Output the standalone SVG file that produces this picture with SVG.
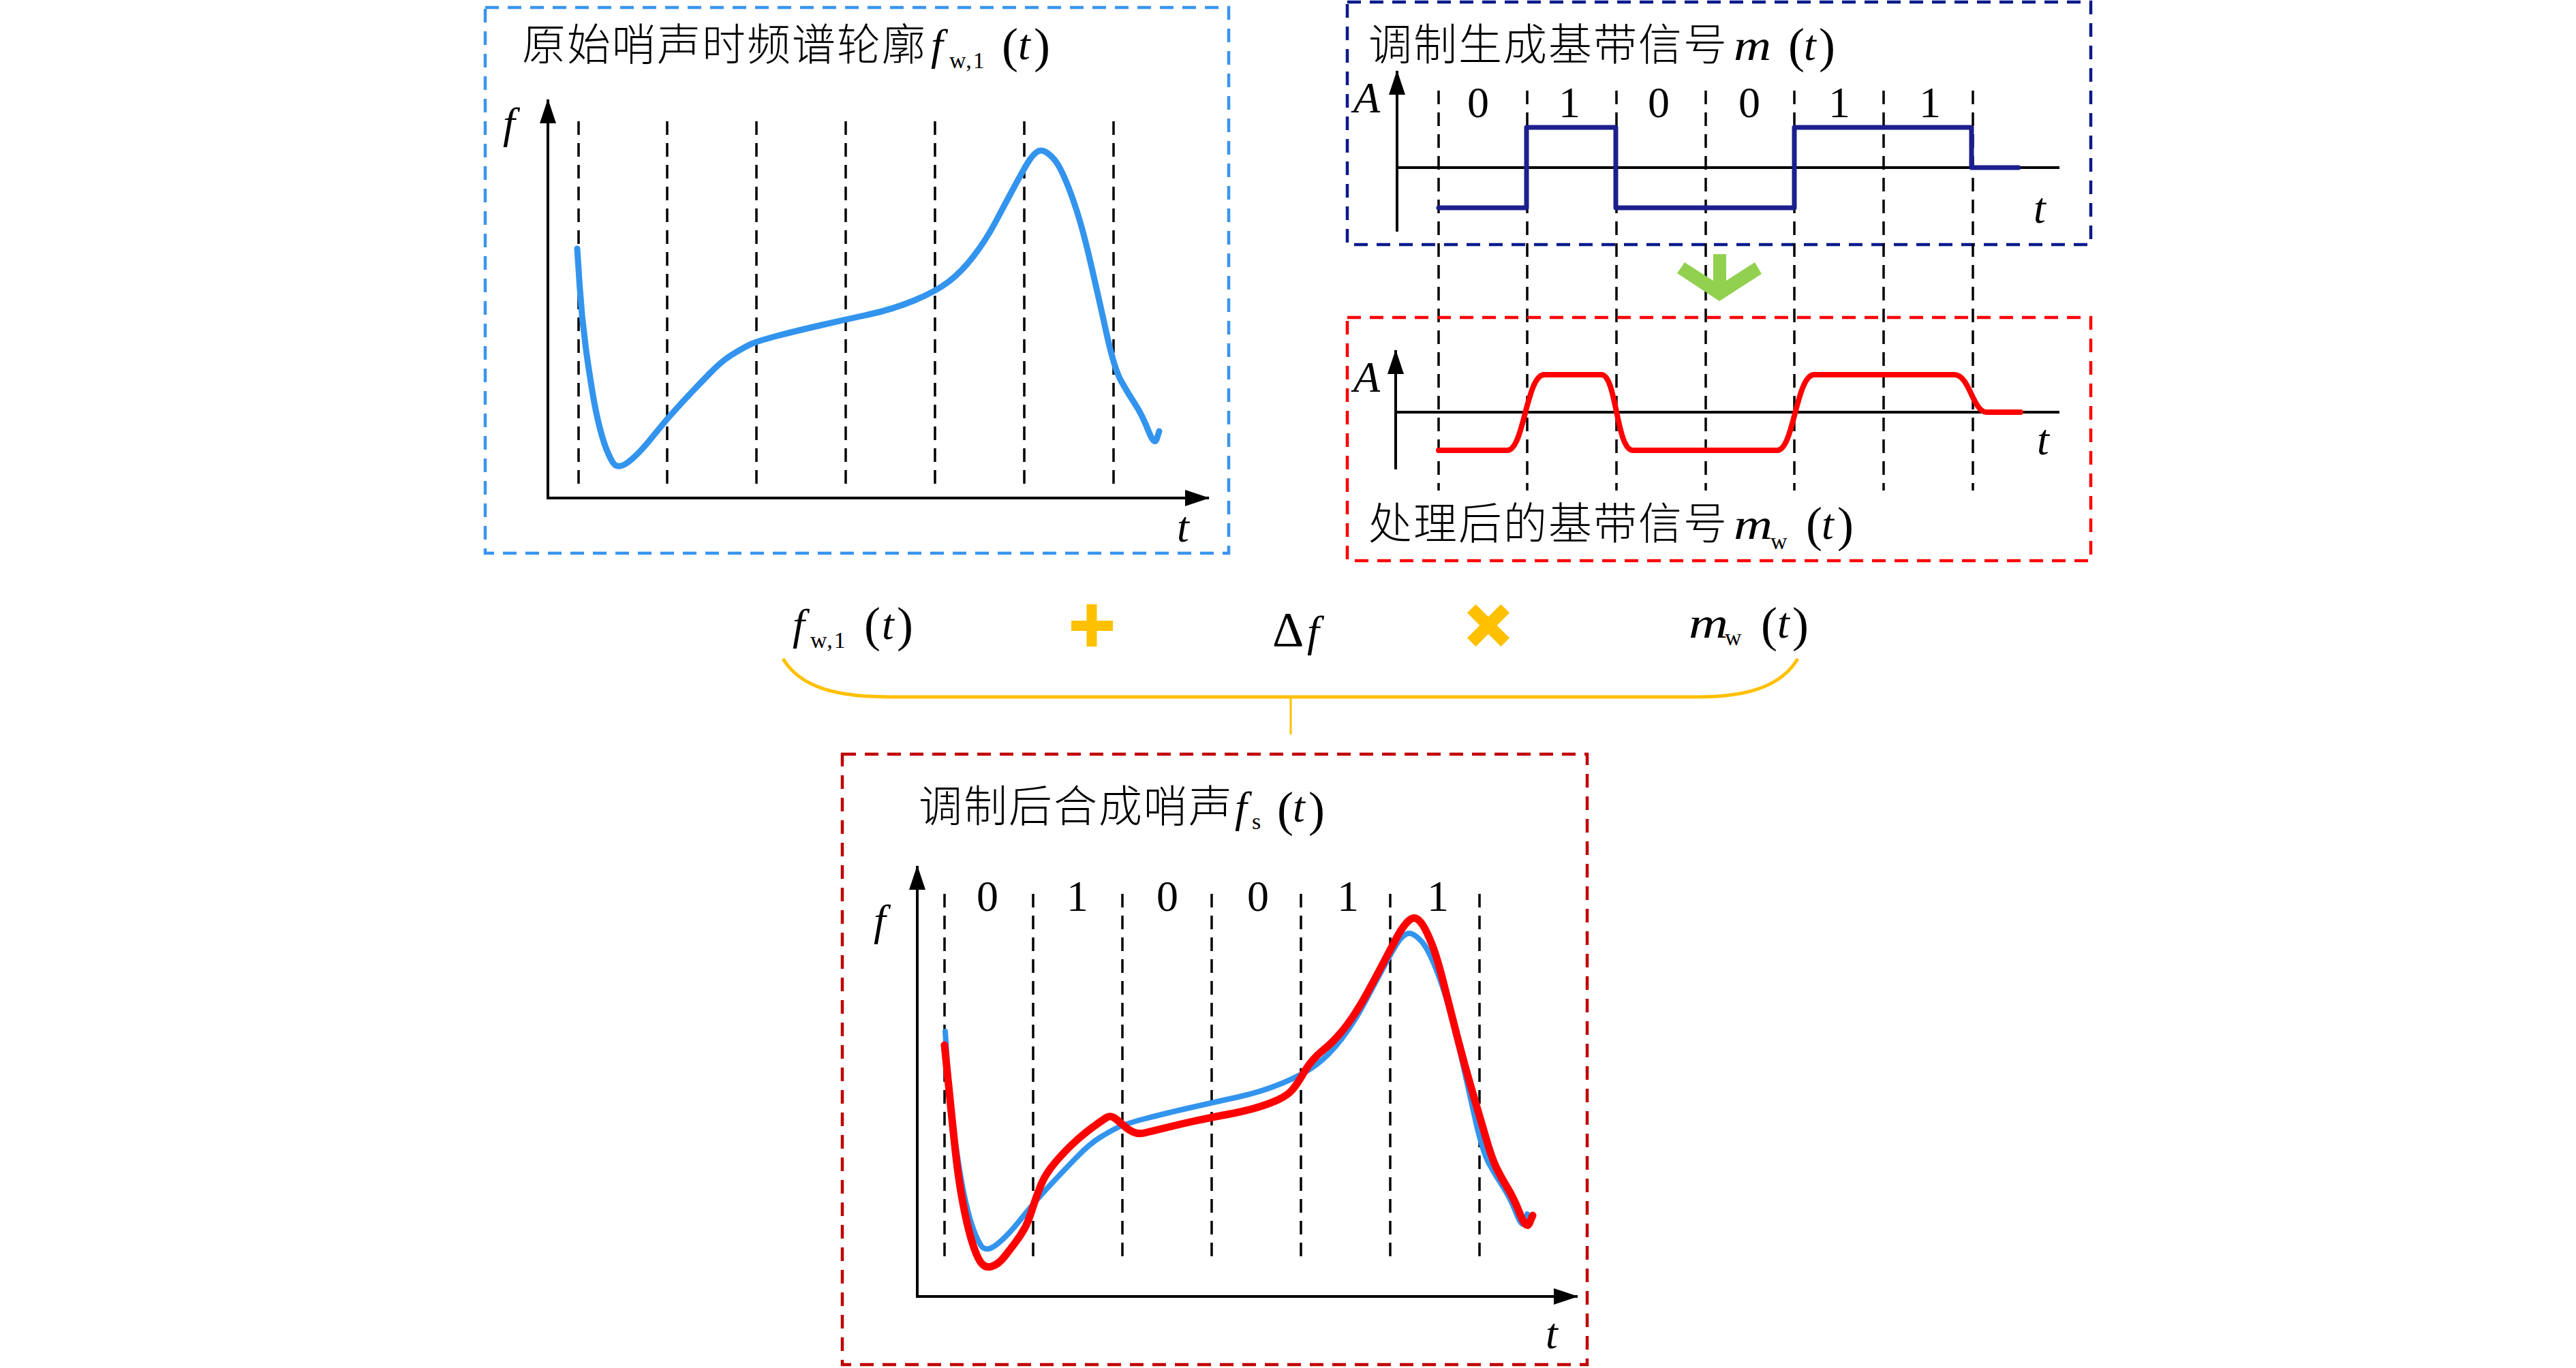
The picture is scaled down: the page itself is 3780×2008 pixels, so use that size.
<svg xmlns="http://www.w3.org/2000/svg" width="3780" height="2008" viewBox="0 0 3780 2008">
<defs>
<style>
.cn{font-family:"Noto Sans CJK SC","Noto Sans CJK JP",sans-serif;font-size:64px;font-weight:300;letter-spacing:2px;fill:#000}
.mi{font-family:"Liberation Serif",serif;font-style:italic;font-size:64px;fill:#000}
.rm{font-family:"Liberation Serif",serif;font-size:64px;fill:#000}
.sub{font-family:"Liberation Serif",serif;font-size:34px;letter-spacing:2px;fill:#000}
.par{font-family:"Liberation Serif",serif;font-size:72px;fill:#000}
.dig{font-family:"Liberation Serif",serif;font-size:64px;text-anchor:middle;fill:#000}
.frame{fill:none;stroke-width:4.5;stroke-dasharray:20 13}
.grid{fill:none;stroke:#000;stroke-width:3.5;stroke-dasharray:20 12}
.axis{fill:none;stroke:#000;stroke-width:4}
.curve{fill:none;stroke-linecap:round;stroke-linejoin:round}
.yel{fill:#ffc000}
</style>
<marker id="ah" markerUnits="userSpaceOnUse" markerWidth="36" markerHeight="24" refX="35" refY="12" orient="auto"><path d="M0,0 L36,12 L0,24 z" fill="#000"/></marker>
</defs>
<rect width="3780" height="2008" fill="#fff"/>

<g id="box1">
<rect class="frame" x="712" y="11" width="1091" height="801" stroke="#3a95ee"/>
<text class="cn" x="766" y="88">原始哨声时频谱轮廓</text>
<text class="mi" x="1366" y="87">f</text><text class="sub" x="1393" y="100">w,1</text>
<text class="par" x="1470" y="91">(</text><text class="mi" x="1494" y="87">t</text><text class="par" x="1517" y="91">)</text>
<g class="grid">
<path d="M849,178V719M979,178V719M1110,178V719M1241,178V719M1372,178V719M1503,178V719M1634,178V719"/>
</g>
<path class="axis" d="M804,731V146" marker-end="url(#ah)"/>
<path class="axis" d="M802,731H1774" marker-end="url(#ah)"/>
<text class="mi" x="738" y="202">f</text>
<text class="mi" x="1727" y="795">t</text>
<g stroke="#3394ee" stroke-width="9">
<path id="bluecurve" class="curve" d="M847,365 L850.5,418.5 Q854,472 861.5,524.5 Q869,577 874.5,603.5 Q880,630 886,648.5 Q892,667 899,678.5 Q906,690 921.5,678.5 Q937,667 958,640.5 Q979,614 1001,590.5 Q1023,567 1041,548.5 Q1059,530 1073.5,521 Q1088,512 1099,506.5 Q1110,501 1138.5,493.5 Q1167,486 1204,477.5 Q1241,469 1275.5,461.5 Q1310,454 1341.5,441 Q1373,428 1392,413.5 Q1411,399 1429,375.5 Q1447,352 1461,325.5 Q1475,299 1489,273 Q1503,247 1509,237.5 Q1515,228 1521,223.5 Q1527,219 1533.5,222.5 Q1540,226 1547,234 Q1554,242 1563,263 Q1572,284 1581,312.5 Q1590,341 1601,388.5 Q1612,436 1623.5,488.5 Q1635,541 1645,559 Q1655,577 1665.5,593 Q1676,609 1685,632 Q1694,655 1697.5,644 L1701,633"/>
</g>
</g>

<g id="box2">
<rect class="frame" x="1977" y="3" width="1091" height="356" stroke="#0a1a8c"/>
<text class="cn" x="2008" y="88">调制生成基带信号</text>
<text class="mi" x="2544" y="88" textLength="55" lengthAdjust="spacingAndGlyphs">m</text>
<text class="par" x="2624" y="91">(</text><text class="mi" x="2647" y="88">t</text><text class="par" x="2669" y="91">)</text>
<path class="axis" d="M2050,340V104" marker-end="url(#ah)"/>
<path class="axis" d="M2050,246H3022"/>
<text class="mi" x="1986" y="165">A</text>
<text class="mi" x="2984" y="327">t</text>
<text class="dig" y="172"><tspan x="2169">0</tspan><tspan x="2303">1</tspan><tspan x="2434">0</tspan><tspan x="2567">0</tspan><tspan x="2699">1</tspan><tspan x="2832">1</tspan></text>
</g>

<g id="grid23" class="grid">
<path d="M2111,133V720M2241,133V720M2372,133V720M2503,133V720M2633,133V720M2764,133V720M2895,133V720"/>
</g>

<path id="wave-m" class="curve" d="M2111,305H2240V187H2371V305H2633V187H2893V246H2962" stroke="#1c1f8c" stroke-width="7" stroke-linecap="butt" stroke-linejoin="miter"/>

<g id="box3">
<rect class="frame" x="1977" y="466" width="1091" height="357" stroke="#ff0000"/>
<path class="axis" d="M2048,689V514" marker-end="url(#ah)"/>
<path class="axis" d="M2048,605H3022"/>
<text class="mi" x="1986" y="575">A</text>
<text class="mi" x="2989" y="667">t</text>
<path class="curve" d="M2111,661 L2212,661 C2236,661 2240,550 2266,550 L2350,550 C2372,550 2372,661 2396,661 L2608,661 C2632,661 2636,550 2662,550 L2868,550 C2890,550 2895,605 2915,605 L2965,605" stroke="#ff0000" stroke-width="8" stroke-linecap="butt"/>
<text class="cn" x="2008" y="791">处理后的基带信号</text>
<text class="mi" x="2544" y="791" textLength="57" lengthAdjust="spacingAndGlyphs">m</text>
<text class="sub" x="2598" y="806">w</text>
<text class="par" x="2650" y="794">(</text><text class="mi" x="2673" y="791">t</text><text class="par" x="2696" y="794">)</text>
</g>

<g id="formula">
<text class="mi" x="1163" y="938">f</text><text class="sub" x="1189" y="951">w,1</text>
<text class="par" x="1268" y="941">(</text><text class="mi" x="1294" y="938">t</text><text class="par" x="1316" y="941">)</text>
<rect class="yel" x="1572" y="911" width="61" height="15"/>
<rect class="yel" x="1594.5" y="887" width="15" height="62"/>
<text class="rm" x="1867" y="948" style="font-size:72px">Δ</text><text class="mi" x="1918" y="948">f</text>
<g transform="translate(2184,918)">
<rect class="yel" x="-35" y="-9" width="70" height="18" transform="rotate(45)"/>
<rect class="yel" x="-35" y="-9" width="70" height="18" transform="rotate(-45)"/>
</g>
<text class="mi" x="2478" y="936" textLength="58" lengthAdjust="spacingAndGlyphs">m</text>
<text class="sub" x="2531" y="947">w</text>
<text class="par" x="2584" y="941">(</text><text class="mi" x="2608" y="936">t</text><text class="par" x="2630" y="941">)</text>
</g>

<g id="connectors">
<polygon points="2514,373 2533,373 2533,412 2575,385 2585,402 2523,442 2461,401 2472,385 2514,412" fill="#92d050"/>
<path d="M1149,967 C1175,1010 1230,1023 1305,1023 L2490,1023 C2570,1023 2615,1005 2638,967" fill="none" stroke="#ffc000" stroke-width="5"/>
<path d="M1894,1023V1078" fill="none" stroke="#ffc000" stroke-width="3"/>
</g>

<g id="box4">
<rect class="frame" x="1236" y="1107" width="1093" height="896" stroke="#c00000"/>
<text class="cn" x="1348" y="1206">调制后合成哨声</text>
<text class="mi" x="1812" y="1206">f</text><text class="sub" x="1837" y="1217">s</text>
<text class="par" x="1874" y="1212">(</text><text class="mi" x="1897" y="1206">t</text><text class="par" x="1920" y="1212">)</text>
<g class="grid">
<path d="M1386,1312V1854M1516,1312V1854M1647,1312V1854M1778,1312V1854M1909,1312V1854M2040,1312V1854M2171,1312V1854"/>
</g>
<path class="axis" d="M1346,1903V1271" marker-end="url(#ah)"/>
<path class="axis" d="M1344,1903H2315" marker-end="url(#ah)"/>
<text class="mi" x="1282" y="1372">f</text>
<text class="mi" x="2268" y="1979">t</text>
<text class="dig" y="1337"><tspan x="1449">0</tspan><tspan x="1581">1</tspan><tspan x="1713">0</tspan><tspan x="1846">0</tspan><tspan x="1978">1</tspan><tspan x="2110">1</tspan></text>
<use href="#bluecurve" transform="translate(540,1149)" stroke="#3394ee" stroke-width="8"/>
<path class="curve" stroke="#ff0000" stroke-width="11" d="M1386,1534 L1390.5,1579 Q1395,1624 1400.5,1676.5 Q1406,1729 1412.5,1763.5 Q1419,1798 1425.5,1820 Q1432,1842 1438.5,1852 Q1445,1862 1455,1859 Q1465,1856 1474,1844.5 Q1483,1833 1490.5,1823 Q1498,1813 1503.5,1803 Q1509,1793 1514.5,1775.5 Q1520,1758 1527,1740.5 Q1534,1723 1549,1705.5 Q1564,1688 1578.5,1675 Q1593,1662 1605.5,1653 Q1618,1644 1623.5,1640.5 Q1629,1637 1634.5,1640.5 Q1640,1644 1647.5,1651 Q1655,1658 1662.5,1661.5 Q1670,1665 1679,1663 Q1688,1661 1710,1655.5 Q1732,1650 1755,1645 Q1778,1640 1802.5,1635.5 Q1827,1631 1845,1625.5 Q1863,1620 1876,1614 Q1889,1608 1896,1600 Q1903,1592 1910.5,1579 Q1918,1566 1925.5,1557 Q1933,1548 1942,1541 Q1951,1534 1962,1522 Q1973,1510 1984,1494 Q1995,1478 2006,1458 Q2017,1438 2028.5,1416 Q2040,1394 2048.5,1378 Q2057,1362 2064.5,1354 Q2072,1346 2077.5,1348 Q2083,1350 2088.5,1359 Q2094,1368 2101,1385.5 Q2108,1403 2117,1438 Q2126,1473 2137,1516.5 Q2148,1560 2160,1600.5 Q2172,1641 2180.5,1670.5 Q2189,1700 2196,1714.5 Q2203,1729 2212,1743.5 Q2221,1758 2230.5,1782 Q2240,1806 2244.5,1795 L2249,1784"/>
</g>
</svg>
